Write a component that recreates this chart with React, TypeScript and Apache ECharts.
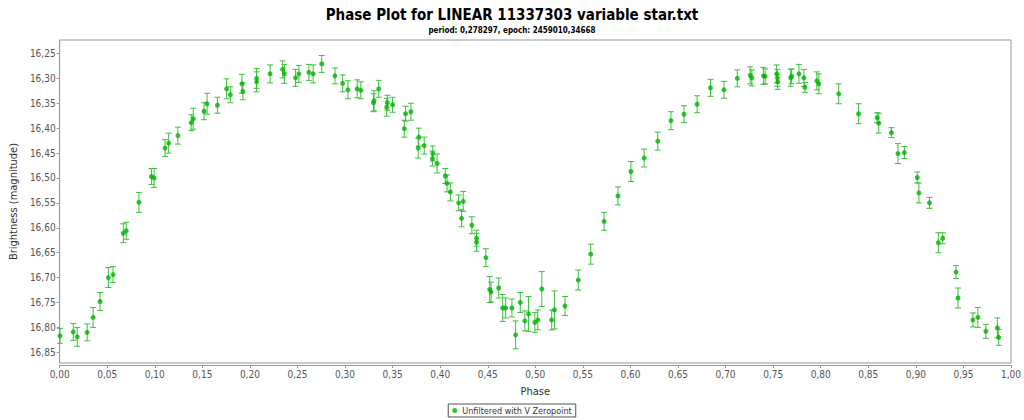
import React, { useEffect, useRef } from "react";
import * as echarts from "echarts";

const phases = [
  0.0003, 0.0143, 0.0185, 0.0289, 0.0352, 0.0425, 0.0512, 0.0561, 0.0669, 0.07,
  0.0833, 0.0965, 0.0993, 0.1108, 0.1146, 0.1243, 0.1383, 0.1404, 0.1518, 0.155,
  0.1658, 0.1755, 0.1794, 0.1916, 0.1926, 0.207, 0.207, 0.2212, 0.2344, 0.2362,
  0.248, 0.2515, 0.262, 0.2665, 0.2755, 0.2894, 0.2975, 0.303, 0.3128, 0.3166,
  0.3299, 0.3305, 0.3354, 0.3438, 0.3445, 0.35, 0.3623, 0.3636, 0.3692, 0.3769,
  0.3775, 0.3832, 0.3918, 0.3922, 0.3968, 0.4054, 0.4072, 0.4107, 0.4194, 0.4225,
  0.4242, 0.4333, 0.4382, 0.4382, 0.448, 0.4521, 0.4535, 0.4615, 0.4657, 0.4688,
  0.4754, 0.4793, 0.4842, 0.489, 0.4929, 0.4995, 0.5026, 0.5068, 0.5172, 0.5201,
  0.5312, 0.5451, 0.5583, 0.5723, 0.5869, 0.6005, 0.6144, 0.6287, 0.6426, 0.6562,
  0.6701, 0.6841, 0.6983, 0.7123, 0.7259, 0.7276, 0.7398, 0.7416, 0.7537, 0.7544,
  0.7548, 0.7684, 0.7694, 0.7771, 0.7823, 0.7834, 0.7959, 0.798, 0.8189, 0.8398,
  0.8593, 0.861, 0.8743, 0.8812, 0.8879, 0.9015, 0.9032, 0.9143, 0.9237, 0.9282,
  0.9422, 0.9443, 0.96, 0.9652, 0.9736, 0.9857, 0.9871,
];

const magnitudes = [
  16.817, 16.809, 16.819, 16.81, 16.78, 16.748, 16.7, 16.694, 16.611, 16.606,
  16.549, 16.497, 16.5, 16.44, 16.43, 16.415, 16.389, 16.381, 16.366, 16.351,
  16.354, 16.321, 16.333, 16.311, 16.326, 16.307, 16.3, 16.291, 16.282, 16.291,
  16.299, 16.291, 16.288, 16.291, 16.271, 16.295, 16.31, 16.323, 16.321, 16.324,
  16.349, 16.345, 16.321, 16.358, 16.349, 16.353, 16.401, 16.371, 16.367, 16.44,
  16.418, 16.435, 16.461, 16.451, 16.471, 16.496, 16.511, 16.528, 16.55, 16.581,
  16.547, 16.595, 16.621, 16.629, 16.66, 16.724, 16.729, 16.721, 16.761, 16.761,
  16.761, 16.815, 16.75, 16.787, 16.773, 16.79, 16.785, 16.723, 16.785, 16.765,
  16.757, 16.705, 16.653, 16.587, 16.536, 16.487, 16.46, 16.426, 16.385, 16.372,
  16.352, 16.319, 16.323, 16.3, 16.294, 16.299, 16.295, 16.296, 16.291, 16.299,
  16.307, 16.299, 16.296, 16.291, 16.299, 16.318, 16.305, 16.311, 16.331, 16.371,
  16.379, 16.39, 16.409, 16.451, 16.449, 16.499, 16.53, 16.55, 16.63, 16.621,
  16.689, 16.741, 16.785, 16.78, 16.808, 16.801, 16.82,
];

const errors = [
  0.015, 0.017, 0.019, 0.017, 0.02, 0.018, 0.02, 0.016, 0.019, 0.017,
  0.02, 0.016, 0.019, 0.017, 0.02, 0.017, 0.016, 0.021, 0.017, 0.021,
  0.016, 0.02, 0.016, 0.019, 0.017, 0.02, 0.02, 0.018, 0.017, 0.019,
  0.017, 0.017, 0.016, 0.018, 0.017, 0.016, 0.017, 0.018, 0.018, 0.017,
  0.018, 0.02, 0.017, 0.018, 0.015, 0.015, 0.017, 0.015, 0.017, 0.02,
  0.018, 0.017, 0.015, 0.015, 0.019, 0.015, 0.017, 0.018, 0.016, 0.017,
  0.02, 0.017, 0.016, 0.018, 0.018, 0.026, 0.02, 0.02, 0.027, 0.02,
  0.018, 0.028, 0.02, 0.02, 0.035, 0.02, 0.02, 0.035, 0.02, 0.038,
  0.019, 0.02, 0.02, 0.018, 0.018, 0.02, 0.018, 0.018, 0.018, 0.017,
  0.017, 0.017, 0.017, 0.017, 0.017, 0.016, 0.017, 0.015, 0.018, 0.017,
  0.015, 0.017, 0.015, 0.019, 0.017, 0.01, 0.018, 0.02, 0.02, 0.02,
  0.01, 0.02, 0.01, 0.02, 0.012, 0.011, 0.02, 0.011, 0.02, 0.011,
  0.013, 0.02, 0.014, 0.02, 0.014, 0.02, 0.016,
];

const yTickValues = [
  16.25, 16.3, 16.35, 16.4, 16.45, 16.5, 16.55, 16.6, 16.65, 16.7, 16.75, 16.8, 16.85,
];

const titleText = "Phase Plot for LINEAR 11337303 variable star.txt";
const subtitleText = "period: 0,278297, epoch: 2459010,34668";
const seriesName = "Unfiltered with V Zeropoint";

const FONT = "'DejaVu Sans Condensed', 'Liberation Sans', sans-serif";
const fmt = (v: number) => v.toFixed(2).replace(".", ",");

export default function App() {
  const ref = useRef<HTMLDivElement>(null);
  useEffect(() => {
    if (!ref.current) return;
    document.body.style.margin = "0";
    const chart = echarts.init(ref.current, undefined, { renderer: "svg" });
    const points = phases.map((p, i) => [p, magnitudes[i]]);
    const bars = phases.map((p, i) => [p, magnitudes[i] - errors[i], magnitudes[i] + errors[i]]);
    chart.setOption({
      animation: false,
      backgroundColor: "#ffffff",
      title: [
        {
          text: titleText,
          left: "center",
          top: 2,
          textStyle: { fontFamily: FONT, fontSize: 15, fontWeight: "bold", color: "#000" },
        },
        {
          text: subtitleText,
          left: "center",
          top: 21,
          textStyle: { fontFamily: FONT, fontSize: 8, fontWeight: "bold", color: "#000" },
        },
      ],
      legend: {
        bottom: 3,
        left: "center",
        data: [{ name: seriesName, icon: "circle" }],
        itemWidth: 5,
        itemHeight: 5,
        itemGap: 4,
        padding: [2, 4, 2, 4],
        borderColor: "#555",
        borderWidth: 1,
        textStyle: { fontFamily: FONT, fontSize: 9, color: "#333" },
      },
      grid: {
        left: 57,
        right: 10,
        top: 40,
        height: 323,
        show: true,
        borderColor: "#999",
        borderWidth: 1,
        backgroundColor: "#fff",
      },
      xAxis: {
        type: "value",
        min: 0,
        max: 1,
        interval: 0.05,
        offset: 2,
        name: "Phase",
        nameLocation: "middle",
        nameGap: 21,
        nameTextStyle: { fontFamily: FONT, fontSize: 11, color: "#333" },
        axisLine: { show: true, lineStyle: { color: "#999" } },
        axisTick: { show: true, length: 3, lineStyle: { color: "#999" } },
        axisLabel: {
          fontFamily: FONT,
          fontSize: 10,
          color: "#555",
          margin: 4,
          formatter: (v: number) => fmt(v),
        },
        splitLine: { show: false },
      },
      yAxis: {
        type: "value",
        inverse: true,
        min: 16.223,
        max: 16.8715,
        name: "Brightness (magnitude)",
        nameLocation: "middle",
        nameGap: 39,
        nameTextStyle: { fontFamily: FONT, fontSize: 11, color: "#333" },
        axisLine: { show: true, lineStyle: { color: "#999" } },
        axisTick: { show: true, length: 3, customValues: yTickValues, lineStyle: { color: "#999" } },
        axisLabel: {
          fontFamily: FONT,
          fontSize: 10,
          color: "#555",
          margin: 4,
          customValues: yTickValues,
          formatter: (v: number) => fmt(v),
        },
        splitLine: { show: false },
      },
      series: [
        {
          type: "custom",
          name: "errorbars",
          silent: true,
          data: bars,
          encode: { x: 0, y: [1, 2] },
          renderItem: (params: any, api: any) => {
            const x = api.value(0);
            const lo = api.coord([x, api.value(1)]);
            const hi = api.coord([x, api.value(2)]);
            const cap = 3;
            const style = { stroke: "#3cc03c", lineWidth: 1 };
            return {
              type: "group",
              children: [
                { type: "line", shape: { x1: lo[0], y1: lo[1], x2: hi[0], y2: hi[1] }, style },
                { type: "line", shape: { x1: lo[0] - cap, y1: lo[1], x2: lo[0] + cap, y2: lo[1] }, style },
                { type: "line", shape: { x1: hi[0] - cap, y1: hi[1], x2: hi[0] + cap, y2: hi[1] }, style },
              ],
            };
          },
        },
        {
          type: "scatter",
          name: seriesName,
          data: points,
          symbol: "circle",
          symbolSize: 5,
          itemStyle: { color: "#00b400" },
          z: 3,
        },
      ],
    });
    return () => chart.dispose();
  }, []);
  return <div ref={ref} style={{ width: 1024, height: 420 }} />;
}
